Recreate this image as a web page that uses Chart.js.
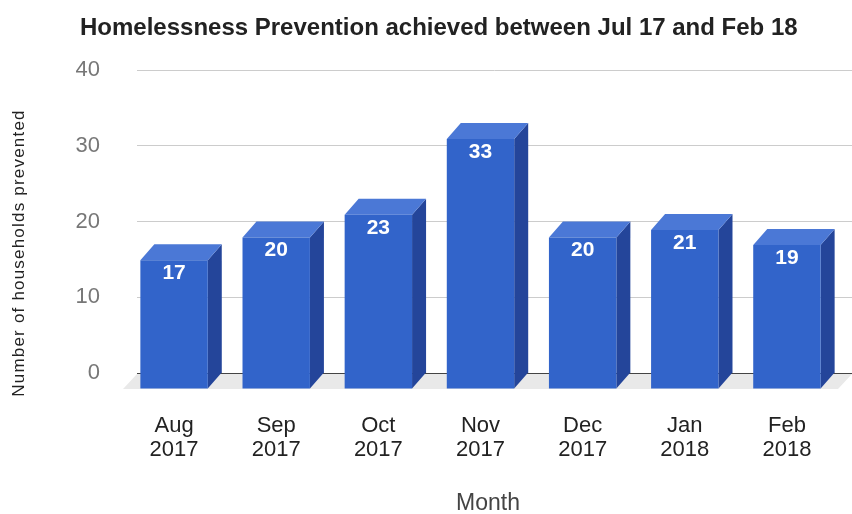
<!DOCTYPE html>
<html>
<head>
<meta charset="utf-8">
<title>Homelessness Prevention</title>
<script src="https://cdn.jsdelivr.net/npm/chart.js@4.4.0/dist/chart.umd.min.js"></script>
<style>
  html, body { margin: 0; padding: 0; background: #fff; }
  #wrap { width: 852px; height: 514px; position: relative; }
</style>
</head>
<body>
<div id="wrap"><canvas id="preventionChart"></canvas></div>
<script>
const months = [['Aug', '2017'], ['Sep', '2017'], ['Oct', '2017'], ['Nov', '2017'], ['Dec', '2017'], ['Jan', '2018'], ['Feb', '2018']];
const prevented = [17, 20, 23, 33, 20, 21, 19];
const yTicks = [0, 10, 20, 30, 40];
const chartTitle = 'Homelessness Prevention achieved between Jul 17 and Feb 18';
const yTitle = 'Number of households prevented';
const xTitle = 'Month';

const FONT = 'Arial, "Liberation Sans", sans-serif';
const depthX = 14, depthY = 16; // fake 3d offset, back plane -> front plane
const frontColor = '#3264ca', sideColor = '#24459a', topColor = '#4b78d6';

// draws the floor, the side/top faces, pushes the front faces forward, then the value labels
const boxes3d = {
    id: 'boxes3d',
    beforeDatasetsDraw(chart) {
        const ctx = chart.ctx;
        const a = chart.chartArea;
        const yBase = chart.scales.y.getPixelForValue(0);
        ctx.save();
        ctx.fillStyle = '#e9e9e9';
        ctx.beginPath();
        ctx.moveTo(a.left, yBase + 1);
        ctx.lineTo(a.right, yBase + 1);
        ctx.lineTo(a.right - depthX, yBase + depthY);
        ctx.lineTo(a.left - depthX, yBase + depthY);
        ctx.closePath();
        ctx.fill();

        chart.getDatasetMeta(0).data.forEach(bar => {
            const p = bar.getProps(['x', 'y', 'base', 'width'], true);
            const l = p.x - p.width / 2, r = p.x + p.width / 2;
            ctx.fillStyle = sideColor;
            ctx.beginPath();
            ctx.moveTo(r - depthX, p.y + depthY);
            ctx.lineTo(r, p.y);
            ctx.lineTo(r, p.base);
            ctx.lineTo(r - depthX, p.base + depthY);
            ctx.closePath();
            ctx.fill();
            ctx.fillStyle = topColor;
            ctx.beginPath();
            ctx.moveTo(l - depthX, p.y + depthY);
            ctx.lineTo(l, p.y);
            ctx.lineTo(r, p.y);
            ctx.lineTo(r - depthX, p.y + depthY);
            ctx.closePath();
            ctx.fill();
        });
        ctx.restore();
        ctx.save();
        ctx.translate(-depthX, depthY);
    },
    afterDatasetsDraw(chart) {
        const ctx = chart.ctx;
        ctx.restore();
        ctx.save();
        ctx.fillStyle = '#ffffff';
        ctx.font = 'bold 21px ' + FONT;
        ctx.textAlign = 'center';
        ctx.textBaseline = 'middle';
        chart.getDatasetMeta(0).data.forEach((bar, i) => {
            ctx.fillText(String(prevented[i]), bar.x - depthX, bar.y + depthY + 13);
        });
        ctx.restore();
    },
    afterDraw(chart) {
        const ctx = chart.ctx;
        ctx.save();
        ctx.fillStyle = '#222';
        ctx.font = 'bold 24px ' + FONT;
        ctx.textAlign = 'left';
        ctx.textBaseline = 'middle';
        ctx.fillText(chartTitle, 80, 28);

        ctx.fillStyle = '#444';
        ctx.font = '23px ' + FONT;
        ctx.textAlign = 'center';
        ctx.fillText(xTitle, 488, 504);

        ctx.translate(19, 253);
        ctx.rotate(-Math.PI / 2);
        ctx.fillStyle = '#222';
        ctx.font = '17px ' + FONT;
        ctx.letterSpacing = '1.2px';
        ctx.fillText(yTitle, 0, 0);
        ctx.restore();
    }
};

const preventionChart = new Chart(
    document.getElementById('preventionChart'),
    {
    type: 'bar',
    data: {
        labels: months,
        datasets: [{
            label: 'Households prevented',
            data: prevented,
            backgroundColor: frontColor,
            borderWidth: 0,
            barPercentage: 0.66,
            categoryPercentage: 1
        }]
    },
    options: {
        responsive: true,
        maintainAspectRatio: false,
        animation: false,
        layout: { padding: { top: 70, right: 0, bottom: 0, left: 0 } },
        plugins: {
            legend: { display: false },
            tooltip: { enabled: false }
        },
        scales: {
            x: {
                grid: { display: false },
                border: { display: false },
                ticks: {
                    color: '#222',
                    font: { family: FONT, size: 22, lineHeight: 24 / 22 },
                    padding: 33,
                    labelOffset: -depthX,
                    maxRotation: 0
                },
                afterFit(scale) {
                    scale.height = 141;
                    scale.paddingLeft = 0;
                    scale.paddingRight = 0;
                }
            },
            y: {
                min: yTicks[0],
                max: yTicks[yTicks.length - 1],
                grid: {
                    drawTicks: false,
                    color: c => (c.tick && c.tick.value === 0) ? '#444' : '#cccccc'
                },
                border: { display: false },
                ticks: {
                    stepSize: yTicks[1] - yTicks[0],
                    color: '#777',
                    font: { family: FONT, size: 22 },
                    padding: 37
                },
                afterFit(scale) { scale.width = 137; }
            }
        }
    },
    plugins: [boxes3d]
});
</script>
</body>
</html>
